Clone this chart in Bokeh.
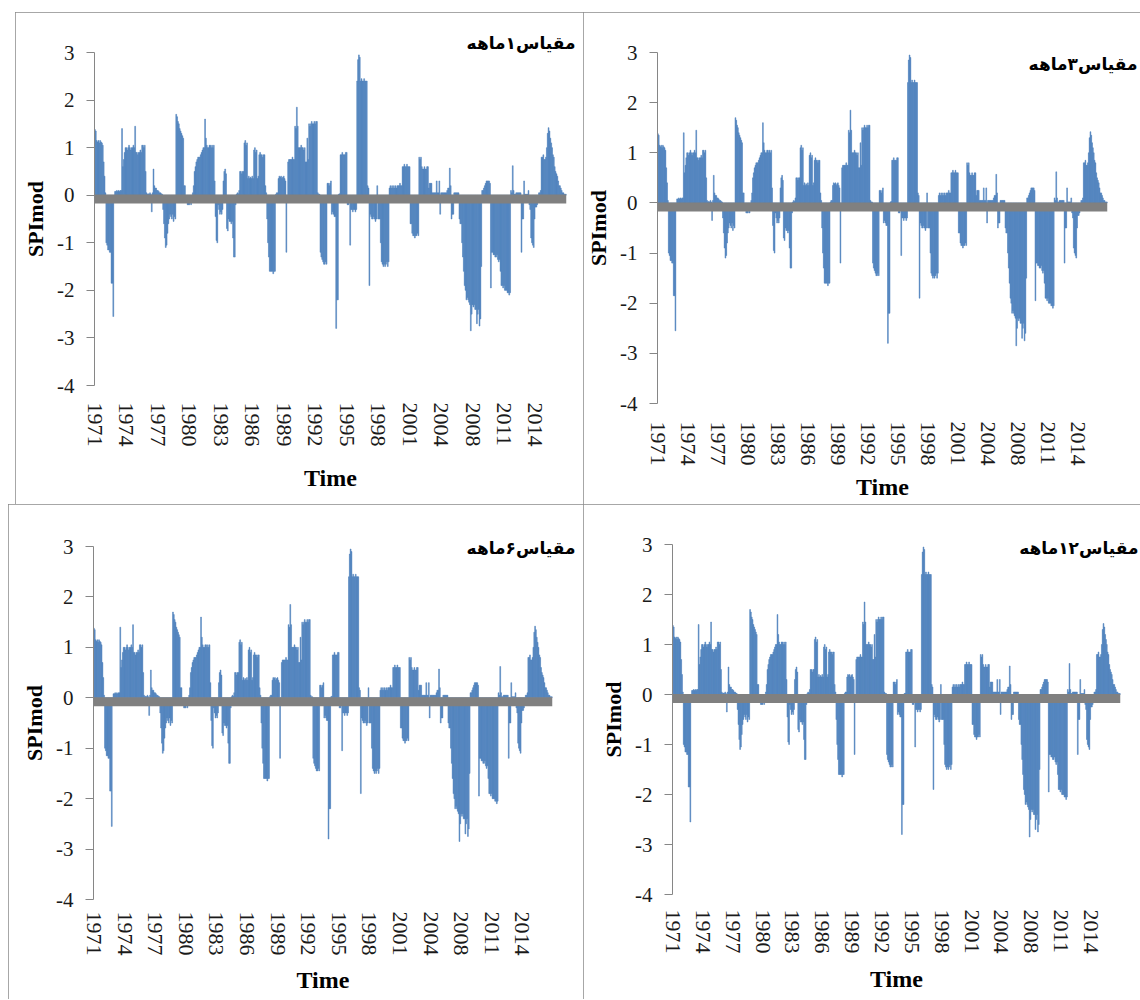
from bokeh.plotting import figure
from bokeh.layouts import row, column
from bokeh.models import Range1d, FixedTicker, Span, Spacer
from bokeh.embed import file_html
from bokeh.resources import INLINE

# ---- data (monthly SPImod values, 1971 .. 2015) ----
spi_values = [
    1.38, 1.35, 1.15, 1.12, 1.15, 1.1, 1.15, 1.12, 1.1, 1.05, 0.7, 0.4,
    0.05, -1.0, -1.05, -1.15, -1.15, -1.2, -1.2, -1.85, -1.85, -2.55, -0.1, 0.08,
    0.08, 0.1, 0.08, 0.1, 0.08, 0.1, 0.1, 1.4, 0.6, 0.75, 0.9, 1.0,
    1.0, 0.95, 1.0, 1.05, 1.0, 0.95, 1.0, 1.0, 1.05, 1.0, 1.45, 0.9,
    0.9, 0.85, 0.9, 0.9, 0.95, 0.9, 1.05, 1.05, 1.0, 1.05, 0.5, 0.05,
    0.02, 0.03, 0.02, 0.05, 0.02, -0.35, 0.05, 0.55, 0.2, 0.15, 0.15, 0.1,
    0.1, 0.08, 0.05, 0.05, 0.03, 0.02, -0.3, -0.6, -0.9, -1.1, -1.05, -0.8,
    -0.6, -0.5, -0.4, -0.45, -0.5, -0.4, -0.55, -0.45, -0.5, 1.7, 1.65, 1.55,
    1.5, 1.4, 1.35, 1.3, 1.25, 1.2, 0.2, 0.2, -0.1, -0.15, -0.2, -0.2,
    -0.2, -0.15, -0.2, -0.15, 0.05, 0.2, 0.5, 0.6, 0.7, 0.75, 0.8, 0.8,
    0.8, 0.85, 0.9, 0.95, 1.0, 1.0, 1.6, 1.2, 1.05, 1.0, 1.0, 1.05,
    1.05, 1.0, 1.05, 1.0, 1.05, 0.3, -0.45, -0.95, -1.0, -0.2, -0.3, -0.4,
    -0.35, -0.4, -0.3, 0.3, 0.5, 0.55, 0.45, -0.7, -0.75, -0.5, -0.55, -0.55,
    -0.6, -0.55, -0.9, -1.3, -1.3, -0.2, 0.02, 0.05, 0.03, 0.1, 0.5, 0.5,
    0.45, 0.5, 0.5, 1.1, 1.15, 1.05, 1.1, 0.35, 0.4, 0.35, 0.38, 0.35,
    0.4, 0.35, 0.95, 1.0, 0.9, 0.95, 0.35, 0.4, 0.85, 0.9, 0.85, 0.85,
    0.8, 0.85, 0.85, 0.2, 0.05, -0.5, -1.0, -1.3, -1.6, -1.6, -1.6, -1.6,
    -1.65, -1.6, -1.6, 0.02, 0.05, 0.05, 0.35, 0.4, 0.38, 0.4, 0.35, 0.38,
    0.4, 0.35, 0.3, -1.2, -0.1, 0.7, 0.75, 0.75, 0.75, 0.75, 0.8, 0.75,
    0.75, 1.45, 1.4, 1.85, 1.45, 1.0, 1.0, 1.0, 1.05, 1.0, 1.0, 0.95,
    1.0, 0.7, 0.7, 1.2, 0.75, 1.5, 1.45, 1.5, 1.55, 1.5, 1.5, 1.55,
    1.5, 1.55, 1.55, 0.05, 0.02, 0.02, -1.2, -1.3, -1.35, -1.4, -1.45, -1.45,
    -1.4, -1.45, 0.25, 0.25, 0.2, 0.25, 0.3, -0.4, -0.35, -0.4, -0.45, -0.45,
    -2.8, -2.2, -2.2, 0.02, 0.03, 0.85, 0.85, 0.9, 0.85, 0.85, 0.85, 0.9,
    0.9, -0.2, -0.2, -0.15, -1.05, -0.3, -0.3, -0.35, -0.3, -0.3, -0.35, -0.3,
    2.4, 2.85, 2.95, 2.9, 2.4, 2.45, 2.4, 2.4, 2.45, 2.4, 2.4, 2.4,
    0.2, 0.15, -1.9, -0.4, -0.45, -0.5, -0.5, -0.45, -0.5, -0.55, -0.5, 0.2,
    -0.5, -0.5, -0.5, -1.0, -1.4, -1.45, -1.5, -1.45, -1.5, -1.45, -1.4, -1.5,
    -1.4, 0.15, 0.2, 0.15, 0.2, 0.15, 0.2, 0.15, 0.2, 0.15, 0.2, 0.2,
    0.2, 0.25, 0.2, 0.2, 0.6, 0.6, 0.65, 0.6, 0.6, 0.65, 0.6, 0.6,
    0.6, -0.6, -0.6, -0.8, -0.85, -0.85, -0.9, -0.85, -0.85, -0.8, -0.85, 0.8,
    0.75, 0.8, 0.6, 0.55, 0.55, 0.6, 0.55, 0.55, 0.6, 0.6, 0.15, 0.25,
    0.25, 0.25, 0.05, 0.05, 0.05, 0.05, 0.05, 0.3, 0.05, 0.05, 0.3, -0.4,
    0.05, 0.05, 0.05, 0.05, 0.05, 0.05, 0.05, 0.1, 0.15, 0.15, 0.57, 0.2,
    -0.5, -0.4, -0.4, 0.05, 0.05, 0.05, 0.05, 0.05, 0.05, -0.5, -0.6, -0.6,
    -1.0, -1.3, -1.6, -1.9, -2.0, -2.2, -2.15, -2.2, -2.25, -2.3, -2.85, -2.5,
    -2.3, -2.35, -2.3, -2.4, -2.4, -2.7, -2.5, -2.4, -2.75, -2.6, -1.5, 0.1,
    0.1, 0.15, 0.2, 0.25, 0.3, 0.3, 0.3, 0.3, 0.25, -1.95, -1.2, -1.2,
    -1.25, -1.25, -1.3, -1.3, -1.25, -1.35, -1.4, -1.35, -1.6, -1.9, -1.9, -1.95,
    -1.9, -2.0, -2.0, -2.0, -2.05, -2.05, -2.1, -2.05, 0.1, 0.05, 0.62, 0.1,
    0.02, 0.02, 0.05, 0.05, 0.05, 0.05, 0.05, 0.05, -1.2, -0.5, -0.5, 0.3,
    0.02, 0.02, 0.02, 0.02, 0.1, -0.2, -0.3, -0.9, -1.0, -1.05, -1.1, -0.5,
    -0.25, -0.25, -0.2, -0.15, 0.05, 0.05, 0.1, 0.8, 0.8, 0.85, 0.75, 0.75,
    0.8, 1.0, 1.3, 1.42, 1.35, 1.2, 1.1, 1.0, 0.85, 0.8, 0.6, 0.5,
    0.45, 0.4, 0.3, 0.2, 0.2, 0.15, 0.1, 0.05, 0.05, 0.02, 0.02, 0.02,
]

tick_labels = ["1971", "1974", "1977", "1980", "1983", "1986", "1989", "1992",
               "1995", "1998", "2001", "2004", "2008", "2011", "2014"]
months_per_label = 36
y_ticks = [-4, -3, -2, -1, 0, 1, 2, 3]
titles = ["مقیاس۱ماهه", "مقیاس۳ماهه", "مقیاس۶ماهه", "مقیاس۱۲ماهه"]
series = [spi_values, spi_values, spi_values, spi_values]

BAR = "#4F81BD"
GRAY = "#808080"
SERIF = "Liberation Serif"

# layout per panel: width, height, borders, title offset/standoff,
# x-label standoff, axis-label standoff
panels = [
    dict(w=568, h=492, l=79, r=17, t=40, b=119, to=-9, ts=-1, st=11, als=15),
    dict(w=557, h=492, l=71, r=33, t=40, b=101, to=-30, ts=-42, st=12, als=5),
    dict(w=575, h=495, l=85, r=31, t=42, b=100, to=-23, ts=-22, st=6, als=8),
    dict(w=557, h=495, l=89, r=20, t=40, b=105, to=-18, ts=-26, st=9, als=9),
]


def make_panel(vals, title, cfg):
    n = len(vals)
    xs = list(range(n))
    p = figure(width=cfg["w"], height=cfg["h"], output_backend="svg",
               toolbar_location=None, x_range=Range1d(-0.5, n - 0.5),
               y_range=Range1d(-4, 3), min_border_left=cfg["l"],
               min_border_right=cfg["r"], min_border_top=cfg["t"],
               min_border_bottom=cfg["b"], title=title)
    p.styles = {"outline": "1.5px solid #8a8a8a", "outline-offset": "-1px"}
    p.outline_line_color = None
    p.grid.visible = False
    p.background_fill_color = "white"
    p.border_fill_color = "white"

    p.title.align = "right"
    p.title.offset = cfg["to"]
    p.title.standoff = cfg["ts"]
    p.title.text_font = "DejaVu Sans"
    p.title.text_font_size = "17px"
    p.title.text_font_style = "bold"
    p.title.text_color = "black"

    p.vbar(x=xs, top=vals, bottom=0, width=1.0, fill_color=BAR,
           line_color=BAR, line_width=0.5)
    p.add_layout(Span(location=-0.08, dimension="width", line_color=GRAY,
                      line_width=9))

    # x axis
    tick_pos = [i * months_per_label for i in range(len(tick_labels))]
    xa = p.xaxis[0]
    xa.ticker = FixedTicker(ticks=tick_pos)
    xa.major_label_overrides = {pos: lab for pos, lab in zip(tick_pos, tick_labels)}
    xa.major_label_orientation = "vertical"
    xa.axis_line_color = None
    xa.major_tick_line_color = None
    xa.minor_tick_line_color = None
    xa.major_label_standoff = cfg["st"]
    xa.major_label_text_font = SERIF
    xa.major_label_text_font_size = "22px"
    xa.major_label_text_color = "#1a1a1a"
    xa.axis_label = "Time"
    xa.axis_label_text_font = SERIF
    xa.axis_label_text_font_size = "24px"
    xa.axis_label_text_font_style = "bold"
    xa.axis_label_text_color = "black"
    xa.axis_label_standoff = cfg["als"]

    # y axis
    ya = p.yaxis[0]
    ya.ticker = FixedTicker(ticks=y_ticks)
    ya.major_label_overrides = {t: str(t) for t in y_ticks}
    ya.axis_line_color = "#868686"
    ya.major_tick_line_color = "#868686"
    ya.major_tick_out = 8
    ya.major_tick_in = 0
    ya.minor_tick_line_color = None
    ya.major_label_standoff = 12
    ya.major_label_text_font = SERIF
    ya.major_label_text_font_size = "21px"
    ya.major_label_text_color = "#1a1a1a"
    ya.axis_label = "SPImod"
    ya.axis_label_text_font = SERIF
    ya.axis_label_text_font_size = "22px"
    ya.axis_label_text_font_style = "bold"
    ya.axis_label_text_color = "black"
    ya.axis_label_standoff = 6
    return p


figs = [make_panel(v, t, c) for v, t, c in zip(series, titles, panels)]

layout = column(
    Spacer(height=12),
    row(Spacer(width=15), column(figs[0]), column(figs[1])),
    row(Spacer(width=8), column(figs[2]), column(figs[3])),
)

open("out.html", "w").write(file_html(layout, INLINE))
